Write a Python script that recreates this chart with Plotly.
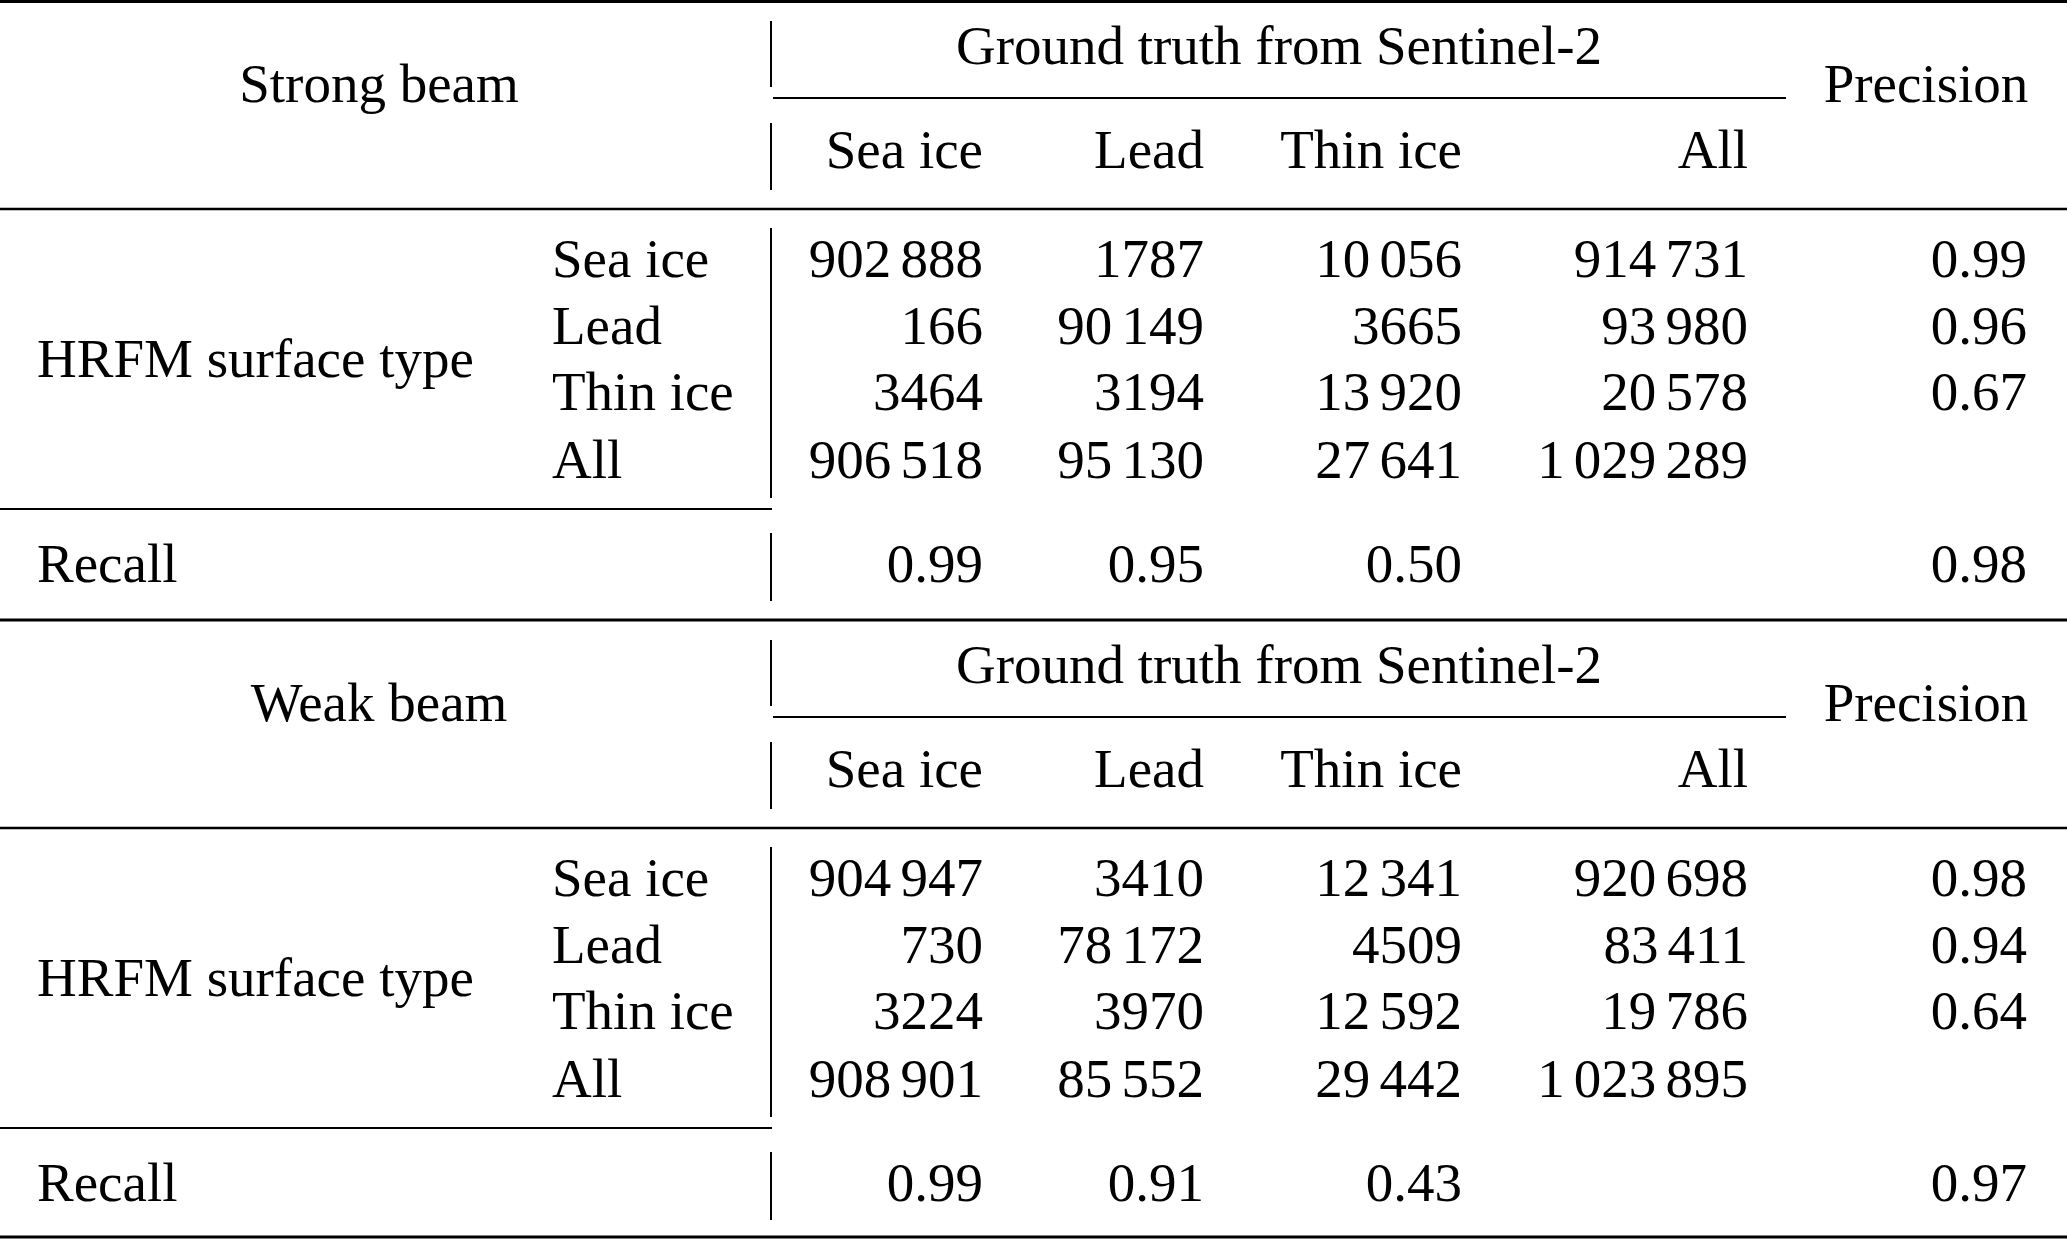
import plotly.graph_objects as go

# ---------------- data ----------------
col_headers = ["Sea ice", "Lead", "Thin ice", "All"]
row_labels = ["Sea ice", "Lead", "Thin ice", "All"]
group_title = "Ground truth from Sentinel-2"
row_group_title = "HRFM surface type"

block_titles = ["Strong beam", "Weak beam"]

strong_counts = [
    [902888, 1787, 10056, 914731],
    [166, 90149, 3665, 93980],
    [3464, 3194, 13920, 20578],
    [906518, 95130, 27641, 1029289],
]
strong_precision = [0.99, 0.96, 0.67]
strong_recall = [0.99, 0.95, 0.50]
strong_overall = 0.98

weak_counts = [
    [904947, 3410, 12341, 920698],
    [730, 78172, 4509, 83411],
    [3224, 3970, 12592, 19786],
    [908901, 85552, 29442, 1023895],
]
weak_precision = [0.98, 0.94, 0.64]
weak_recall = [0.99, 0.91, 0.43]
weak_overall = 0.97

# ---------------- layout constants (pixels) ----------------
W, H = 2067, 1241
FS = 55
FONT = "Liberation Serif"
COL_RIGHT = [983, 1204, 1462, 1748]
PREC_RIGHT = 2027
LEFT_X = 37
ROWLAB_X = 552
VLINE_X = 771
BEAM_CX = 379
GT_CX = 1279
PREC_CX = 1926
BLOCK_OFF = [0, 619]
BL_GT = 64
BL_HDR = 102
BL_COLHDR = 168
BL_ROWS = [277, 344, 410, 478]
BL_HRFM = 377
BL_RECALL = 582
VSEGS = [(21, 87), (123, 190), (228, 498), (533, 601)]
MID_SHIFT = 0.25 * FS  # plotly baseline offset for 'middle' text

THIN = "\u2006"


def fmt_int(n):
    if n >= 10000:
        return f"{n:,}".replace(",", THIN)
    return str(n)


def ypos(baseline, off):
    return baseline + off - MID_SHIFT


fig = go.Figure()
font = dict(family=FONT, size=FS, color="black")

blocks = [
    (strong_counts, strong_precision, strong_recall, strong_overall),
    (weak_counts, weak_precision, weak_recall, weak_overall),
]

for bi, (counts, prec, rec, overall) in enumerate(blocks):
    off = BLOCK_OFF[bi]
    # centered texts
    fig.add_trace(go.Scatter(
        x=[BEAM_CX, GT_CX, PREC_CX],
        y=[ypos(BL_HDR, off), ypos(BL_GT, off), ypos(BL_HDR, off)],
        text=[block_titles[bi], group_title, "Precision"],
        mode="text", textposition="middle center", textfont=font,
        hoverinfo="skip", showlegend=False))
    # right-aligned texts
    xs, ys, ts = [], [], []
    for ci, h in enumerate(col_headers):
        xs.append(COL_RIGHT[ci]); ys.append(ypos(BL_COLHDR, off)); ts.append(h)
    for ri, row in enumerate(counts):
        for ci, v in enumerate(row):
            xs.append(COL_RIGHT[ci]); ys.append(ypos(BL_ROWS[ri], off)); ts.append(fmt_int(v))
    for ri, p in enumerate(prec):
        xs.append(PREC_RIGHT); ys.append(ypos(BL_ROWS[ri], off)); ts.append(f"{p:.2f}")
    for ci, r in enumerate(rec):
        xs.append(COL_RIGHT[ci]); ys.append(ypos(BL_RECALL, off)); ts.append(f"{r:.2f}")
    xs.append(PREC_RIGHT); ys.append(ypos(BL_RECALL, off)); ts.append(f"{overall:.2f}")
    fig.add_trace(go.Scatter(
        x=xs, y=ys, text=ts, mode="text", textposition="middle left",
        textfont=font, hoverinfo="skip", showlegend=False))
    # left-aligned texts
    xs = [LEFT_X, LEFT_X] + [ROWLAB_X] * len(row_labels)
    ys = [ypos(BL_HRFM, off), ypos(BL_RECALL, off)] + [ypos(b, off) for b in BL_ROWS]
    ts = [row_group_title, "Recall"] + row_labels
    fig.add_trace(go.Scatter(
        x=xs, y=ys, text=ts, mode="text", textposition="middle right",
        textfont=font, hoverinfo="skip", showlegend=False))

# ---------------- rules ----------------
shapes = []


def hline(y, x0, x1, w):
    shapes.append(dict(type="line", xref="x", yref="y", x0=x0, x1=x1, y0=y, y1=y,
                       line=dict(color="black", width=w)))


def vline(x, y0, y1, w):
    shapes.append(dict(type="line", xref="x", yref="y", x0=x, x1=x, y0=y0, y1=y1,
                       line=dict(color="black", width=w)))


hline(1.5, 0, W, 3)
for bi, off in enumerate(BLOCK_OFF):
    hline(98 + off, 773, 1786, 2)
    hline(209 + off, 0, W, 2.5)
    hline(509 + off, 0, 772, 2)
    hline(620 + off if bi == 0 else 1237, 0, W, 3)
    for (a, b) in VSEGS:
        vline(VLINE_X, a + off, b + off, 2)

fig.update_layout(
    width=W, height=H, autosize=False,
    margin=dict(l=0, r=0, t=0, b=0, pad=0),
    paper_bgcolor="white", plot_bgcolor="white",
    xaxis=dict(range=[0, W], visible=False, fixedrange=True),
    yaxis=dict(range=[H, 0], visible=False, fixedrange=True),
    shapes=shapes,
    showlegend=False,
)

fig.write_html("out.html", config={"displayModeBar": False, "staticPlot": True},
               post_script="document.body.style.margin='0';document.body.style.overflow='hidden';")
